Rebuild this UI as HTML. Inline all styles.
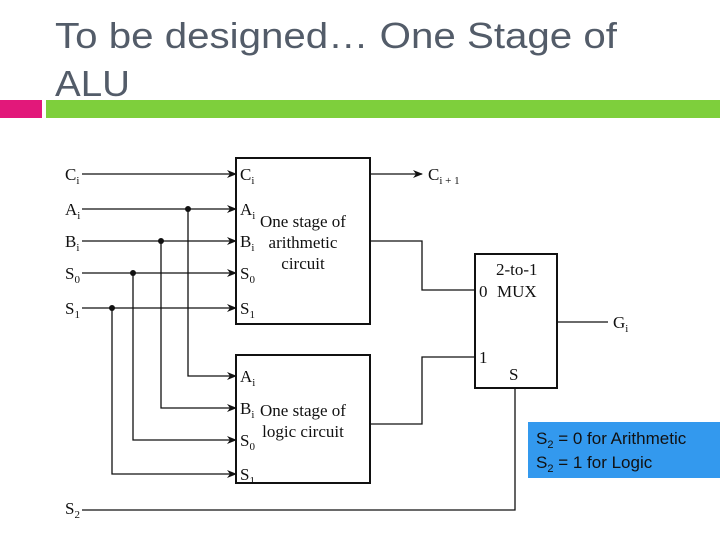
<!DOCTYPE html>
<html><head><meta charset="utf-8"><style>
body{margin:0;width:720px;height:540px;background:#fff;overflow:hidden}
svg{display:block}
.t{font-family:"Liberation Serif",serif;font-size:17px;fill:#111}
.s{font-size:11px}
</style></head><body>
<svg width="720" height="540" viewBox="0 0 720 540">
<defs><marker id="a" markerWidth="10" markerHeight="8" refX="9" refY="4" orient="auto" markerUnits="userSpaceOnUse"><path d="M0,0 L10,4 L0,8 L3,4z" fill="#111"/></marker></defs>
<text x="55" y="48" font-family="Liberation Sans,sans-serif" font-size="36" fill="#535c69" textLength="562" lengthAdjust="spacingAndGlyphs">To be designed… One Stage of</text>
<text x="55" y="96" font-family="Liberation Sans,sans-serif" font-size="36" fill="#535c69" textLength="75" lengthAdjust="spacingAndGlyphs">ALU</text>
<rect x="0" y="100" width="42" height="18" fill="#e2187a"/>
<rect x="46" y="100" width="674" height="18" fill="#7ecf3c"/>
<g stroke="#111" stroke-width="1.3" fill="none">
<rect x="236" y="158" width="134" height="166" stroke-width="2"/>
<rect x="236" y="355" width="134" height="128" stroke-width="2"/>
<rect x="475" y="254" width="82" height="134" stroke-width="2"/>
<line x1="82" y1="174" x2="236" y2="174" marker-end="url(#a)"/>
<line x1="82" y1="209" x2="236" y2="209" marker-end="url(#a)"/>
<line x1="82" y1="241" x2="236" y2="241" marker-end="url(#a)"/>
<line x1="82" y1="273" x2="236" y2="273" marker-end="url(#a)"/>
<line x1="82" y1="308" x2="236" y2="308" marker-end="url(#a)"/>
<polyline points="188,209 188,376 236,376" marker-end="url(#a)"/>
<polyline points="161,241 161,408 236,408" marker-end="url(#a)"/>
<polyline points="133,273 133,440 236,440" marker-end="url(#a)"/>
<polyline points="112,308 112,474 236,474" marker-end="url(#a)"/>
<line x1="370" y1="174" x2="422" y2="174" marker-end="url(#a)"/>
<polyline points="370,241 422,241 422,290 475,290"/>
<polyline points="370,424 422,424 422,357 475,357"/>
<polyline points="82,510 515,510 515,388"/>
<line x1="557" y1="322" x2="608" y2="322"/>
</g>
<g fill="#111"><circle cx="188" cy="209" r="3"/><circle cx="161" cy="241" r="3"/><circle cx="133" cy="273" r="3"/><circle cx="112" cy="308" r="3"/></g>
<g class="t">
<text x="65" y="180">C<tspan class="s" dy="4">i</tspan></text>
<text x="65" y="215">A<tspan class="s" dy="4">i</tspan></text>
<text x="65" y="247">B<tspan class="s" dy="4">i</tspan></text>
<text x="65" y="279">S<tspan class="s" dy="4">0</tspan></text>
<text x="65" y="314">S<tspan class="s" dy="4">1</tspan></text>
<text x="65" y="514">S<tspan class="s" dy="4">2</tspan></text>
<text x="240" y="180">C<tspan class="s" dy="4">i</tspan></text>
<text x="240" y="215">A<tspan class="s" dy="4">i</tspan></text>
<text x="240" y="247">B<tspan class="s" dy="4">i</tspan></text>
<text x="240" y="279">S<tspan class="s" dy="4">0</tspan></text>
<text x="240" y="314">S<tspan class="s" dy="4">1</tspan></text>
<text x="240" y="382">A<tspan class="s" dy="4">i</tspan></text>
<text x="240" y="414">B<tspan class="s" dy="4">i</tspan></text>
<text x="240" y="446">S<tspan class="s" dy="4">0</tspan></text>
<text x="240" y="480">S<tspan class="s" dy="4">1</tspan></text>
<text x="303" y="227" text-anchor="middle">One stage of</text>
<text x="303" y="248" text-anchor="middle">arithmetic</text>
<text x="303" y="269" text-anchor="middle">circuit</text>
<text x="303" y="416" text-anchor="middle">One stage of</text>
<text x="303" y="437" text-anchor="middle">logic circuit</text>
<text x="428" y="180">C<tspan class="s" dy="4">i + 1</tspan></text>
<text x="613" y="328">G<tspan class="s" dy="4">i</tspan></text>
<text x="496" y="275">2-to-1</text>
<text x="479" y="297">0</text>
<text x="497" y="297">MUX</text>
<text x="479" y="363">1</text>
<text x="509" y="380">S</text>
</g>
<rect x="528" y="422" width="192" height="56" fill="#3399ee"/>
<g font-family="Liberation Sans,sans-serif" font-size="17" fill="#111">
<text x="536" y="444">S<tspan font-size="11" dy="4">2</tspan><tspan dy="-4"> = 0 for Arithmetic</tspan></text>
<text x="536" y="468">S<tspan font-size="11" dy="4">2</tspan><tspan dy="-4"> = 1 for Logic</tspan></text>
</g>
</svg>
</body></html>
